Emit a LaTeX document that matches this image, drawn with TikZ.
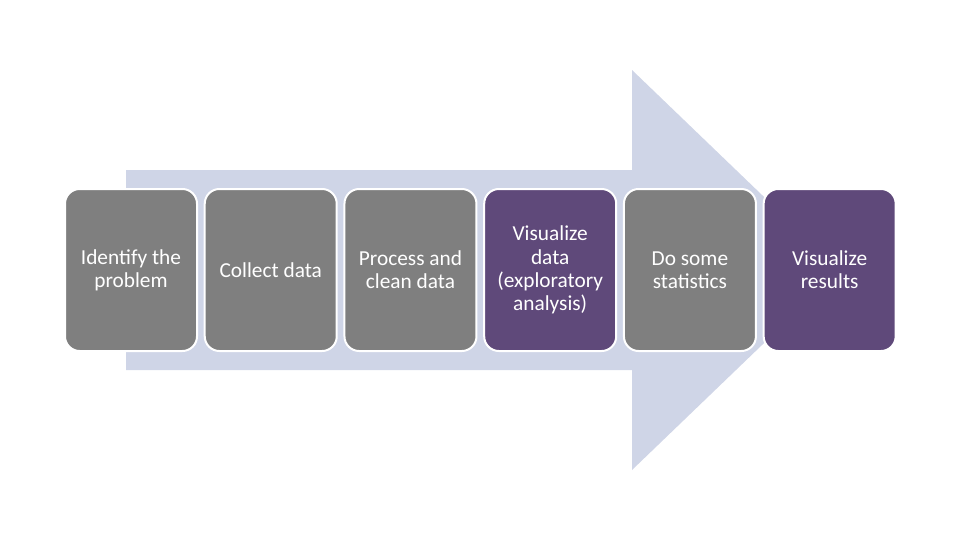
\documentclass[tikz,border=0pt]{standalone}
\usepackage{fontspec}
\setmainfont{Carlito}
\usetikzlibrary{positioning}

\definecolor{stepgray}{HTML}{7F7F7F}
\definecolor{steppurple}{HTML}{5F497A}
\definecolor{arrowblue}{HTML}{CFD5E7}

\tikzset{
  stepbox/.style={
    rectangle, rounded corners=11pt, draw=white, line width=1.5pt,
    minimum width=99pt, minimum height=121.5pt, align=center,
    text=white, font=\fontsize{16}{17.4}\selectfont},
  graybox/.style={stepbox, fill=stepgray},
  purplebox/.style={stepbox, fill=steppurple}
}

\begin{document}
\begin{tikzpicture}[x=0.75pt, y=-0.75pt, node distance=4.3pt]
  % page size
  \useasboundingbox (0,0) rectangle (960,540);

  % big arrow behind the steps
  \fill[arrowblue] (126,170) -- (632,170) -- (632,70) -- (840,270)
    -- (632,470) -- (632,370) -- (126,370) -- cycle;

  % steps, left to right
  \node[graybox] (identify) at (131,270) {Identify the\\problem};
  \node[graybox, right=of identify] (collect) {Collect data};
  \node[graybox, right=of collect] (process) {Process and\\clean data};
  \node[purplebox, right=of process] (explore) {Visualize\\data\\(exploratory\\analysis)};
  \node[graybox, right=of explore] (stats) {Do some\\statistics};
  \node[purplebox, right=of stats] (results) {Visualize\\results};
\end{tikzpicture}
\end{document}
